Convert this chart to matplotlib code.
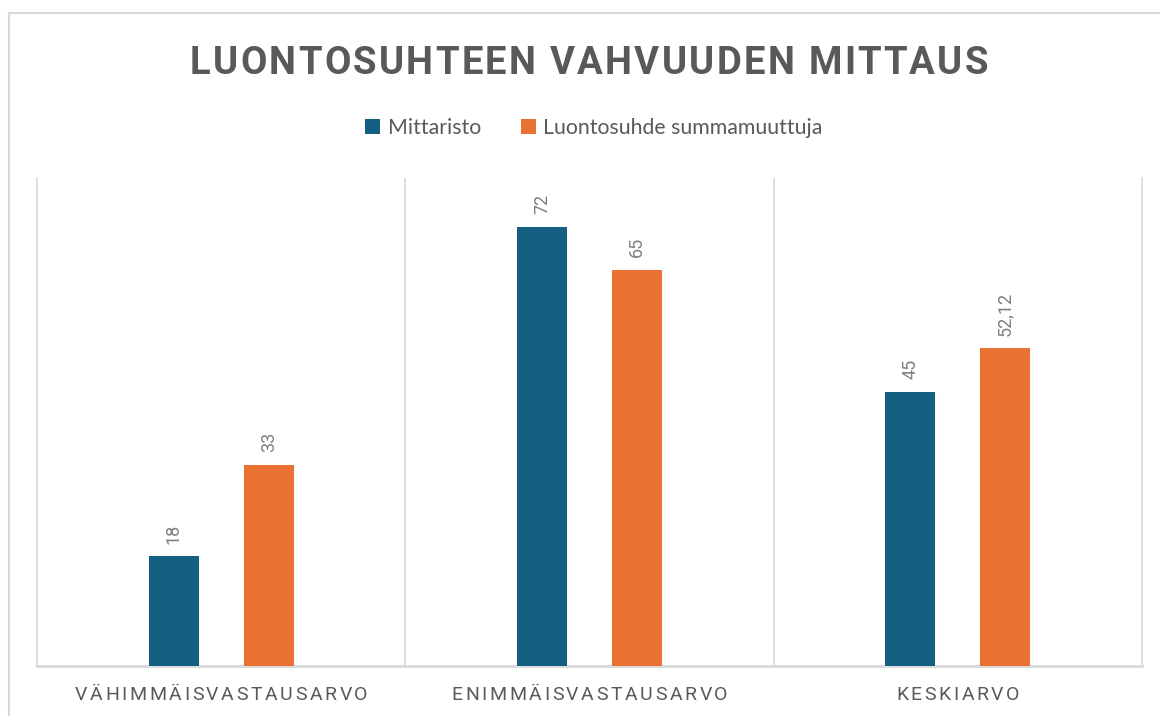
import matplotlib
matplotlib.use("Agg")
import matplotlib.pyplot as plt
from matplotlib.font_manager import FontProperties
from matplotlib.lines import Line2D
import numpy as np

categories = ["VÄHIMMÄISVASTAUSARVO", "ENIMMÄISVASTAUSARVO", "KESKIARVO"]
series_names = ["Mittaristo", "Luontosuhde summamuuttuja"]
mittaristo = [18, 72, 45]
luontosuhde = [33, 65, 52.12]
value_labels_m = ["18", "72", "45"]
value_labels_l = ["33", "65", "52,12"]
title = "LUONTOSUHTEEN VAHVUUDEN MITTAUS"

BLUE = "#156082"
ORANGE = "#E97132"
GRAY = "#595959"
LGRAY = "#D9D9D9"

W, H = 1160, 716
fig = plt.figure(figsize=(W / 100, H / 100), dpi=100)
fig.patch.set_facecolor("white")

def fx(px):
    return px / W

def fy(py):
    return 1 - py / H

# outer chart border (only left and top visible)
fig.add_artist(Line2D([fx(8.5), fx(8.5)], [0, fy(12.5)], transform=fig.transFigure, color=LGRAY, lw=1.5))
fig.add_artist(Line2D([fx(8.5), 1], [fy(12.5), fy(12.5)], transform=fig.transFigure, color=LGRAY, lw=1.5))

ax_l, ax_r, ax_t, ax_b = 37, 1142, 178, 666
ax = fig.add_axes([fx(ax_l), fy(ax_b), fx(ax_r - ax_l), (ax_b - ax_t) / H])
ax.set_xlim(-0.5, len(categories) - 0.5)
ax.set_ylim(0, 80)

x = np.arange(len(categories))
off = 0.129
bw = 0.136
b1 = ax.bar(x - off, mittaristo, width=bw, color=BLUE, label=series_names[0], zorder=3)
b2 = ax.bar(x + off, luontosuhde, width=bw, color=ORANGE, label=series_names[1], zorder=3)

lblfp = dict(family=["Roboto", "DejaVu Sans"], fontsize=13, color="#7F7F7F")
for rect, lab in zip(b1, value_labels_m):
    ax.annotate(lab, (rect.get_x() + rect.get_width() / 2, rect.get_height()),
                xytext=(0, 9), textcoords="offset points", ha="center", va="bottom",
                rotation=90, **lblfp)
for rect, lab in zip(b2, value_labels_l):
    ax.annotate(lab, (rect.get_x() + rect.get_width() / 2, rect.get_height()),
                xytext=(0, 9), textcoords="offset points", ha="center", va="bottom",
                rotation=90, **lblfp)

# separators
for xs in np.arange(0.5, len(categories) - 0.5, 1):
    ax.axvline(xs, color=LGRAY, lw=1.2, zorder=1)
ax.spines["top"].set_visible(False)
ax.spines["left"].set_color(LGRAY)
ax.spines["left"].set_linewidth(1.2)
ax.spines["right"].set_color(LGRAY)
ax.spines["right"].set_linewidth(1.2)
ax.spines["bottom"].set_color(LGRAY)
ax.spines["bottom"].set_linewidth(2.0)
ax.set_xticks([])
ax.set_yticks([])
ax.set_facecolor("none")

renderer = fig.canvas.get_renderer()

def spaced_text(s, cx_px, cy_px, fp, total_width=None, spacing=None, color=GRAY):
    widths = []
    for ch in s:
        if ch == " ":
            w, _, _ = renderer.get_text_width_height_descent("a a", fp, ismath=False)
            w2, _, _ = renderer.get_text_width_height_descent("aa", fp, ismath=False)
            widths.append(w - w2)
        else:
            w, _, _ = renderer.get_text_width_height_descent(ch, fp, ismath=False)
            widths.append(w)
    base = sum(widths)
    if spacing is None:
        spacing = (total_width - base) / (len(s) - 1)
    tot = base + spacing * (len(s) - 1)
    xpos = cx_px - tot / 2
    for ch, w in zip(s, widths):
        if ch != " ":
            fig.text(fx(xpos), fy(cy_px), ch, fontproperties=fp, color=color,
                     ha="left", va="center_baseline")
        xpos += w + spacing
    return spacing

# title
title_fp = FontProperties(family="Roboto", weight="bold", size=27.5)
spaced_text(title, 589, 59, title_fp, total_width=798)

# category labels
tick_fp = FontProperties(family="Roboto", size=14)
centers_px = [ax_l + (ax_r - ax_l) * (i + 0.5) / len(categories) for i in range(len(categories))]
sp = spaced_text(categories[0], centers_px[0], 693, tick_fp, total_width=293)
for c, cx in zip(categories[1:], centers_px[1:]):
    spaced_text(c, cx, 693, tick_fp, spacing=sp)

# legend
leg = fig.legend(handles=[b1, b2], labels=series_names, loc="center", bbox_to_anchor=(fx(594), fy(128)),
                 ncol=2, frameon=False, prop=FontProperties(family=["Lato", "DejaVu Sans"], size=15.3),
                 handlelength=0.7, handleheight=0.7, handletextpad=0.35, columnspacing=1.9, labelcolor=GRAY)

fig.savefig("out.png", dpi=100, facecolor="white")
